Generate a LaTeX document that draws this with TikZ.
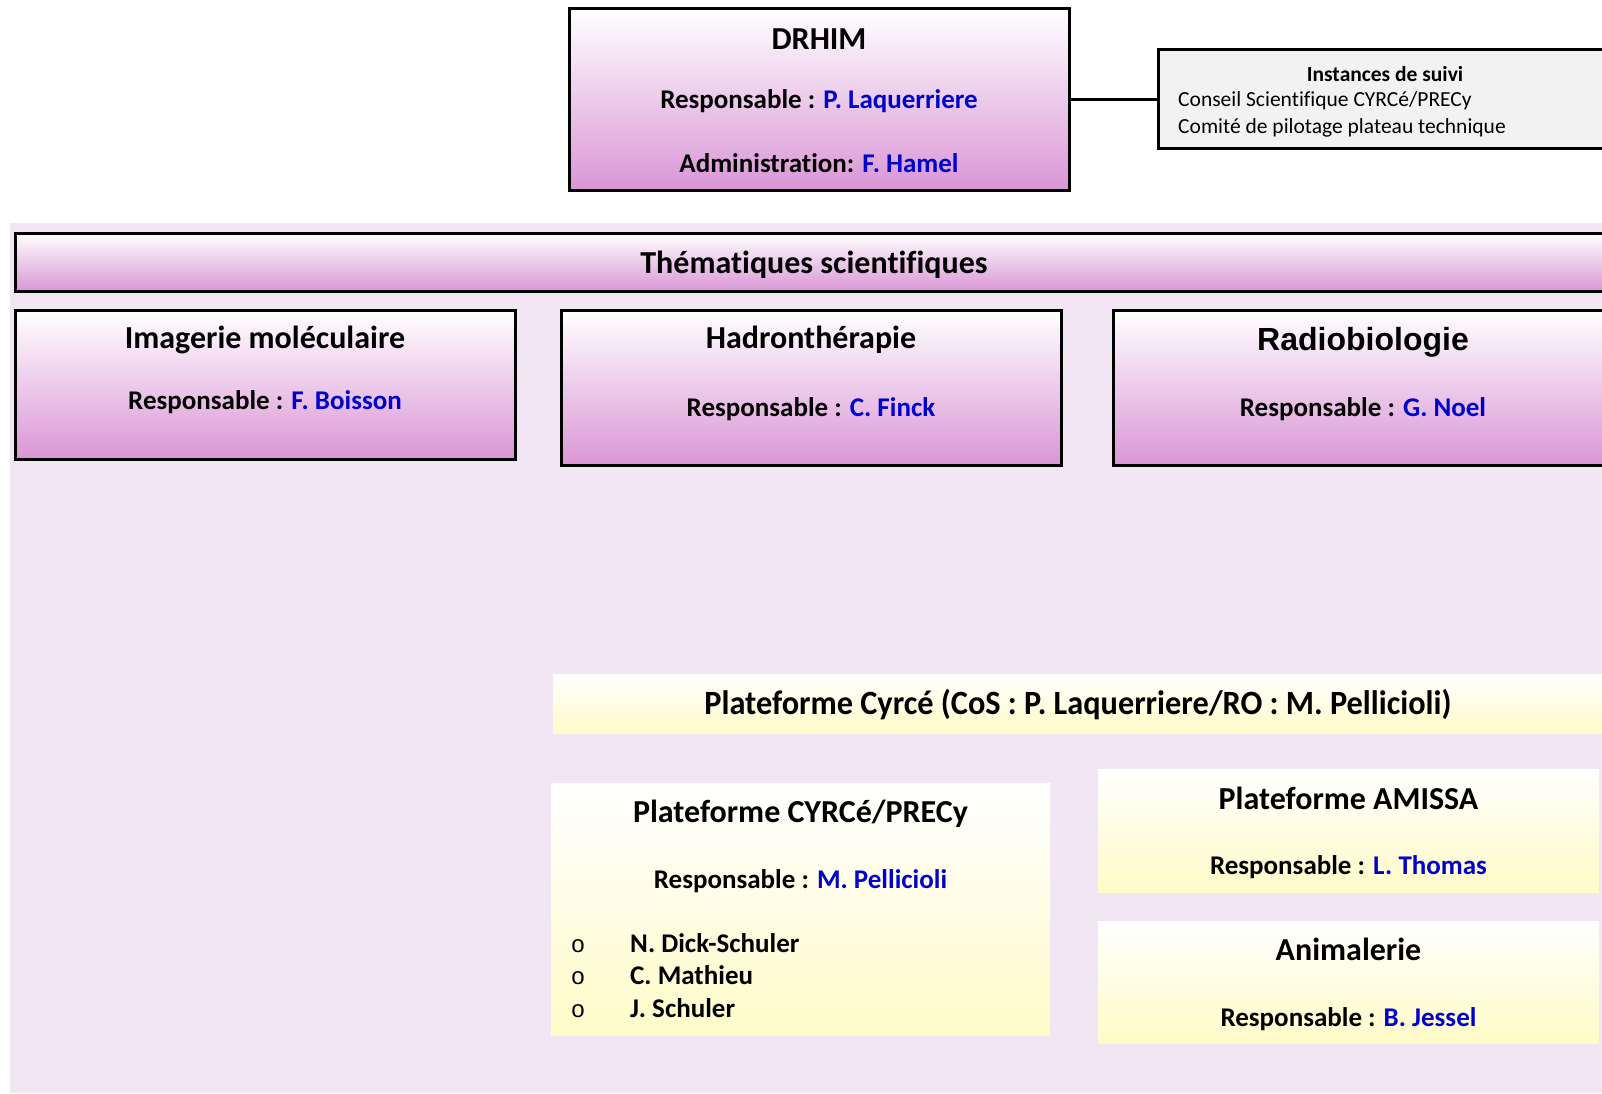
\documentclass[tikz,border=0pt]{standalone}
\usepackage{fontspec}
\setmainfont{Carlito}[Ligatures=NoCommon]
\newfontfamily\radiofont{Liberation Sans}
\newfontfamily\narrowfont[FakeStretch=0.95, Ligatures=NoCommon]{Carlito}
\newfontfamily\bulletfont{Liberation Mono}

\definecolor{orchidbot}{RGB}{218,150,214}
\definecolor{lavender}{RGB}{243,230,244}
\definecolor{paleyellow}{RGB}{255,251,200}
\definecolor{nameblue}{RGB}{0,0,204}
\definecolor{greybox}{RGB}{242,242,242}

\newcommand{\resp}[1]{Responsable : \textcolor{nameblue}{#1}}

\tikzstyle{pinkbox} = [rectangle, draw, line width=3pt, inner sep=0pt, top color=white, bottom color=orchidbot]
\tikzstyle{yellowbox} = [rectangle, inner sep=0pt, top color=white, bottom color=paleyellow]
\tikzstyle{title} = [font=\bfseries\fontsize{32}{36}\selectfont, anchor=mid, inner sep=0pt, yshift=-8pt]
\tikzstyle{resp} = [font=\bfseries\fontsize{27}{31}\selectfont, anchor=mid, inner sep=0pt, yshift=-7pt]
\tikzstyle{small} = [font=\fontsize{21.5}{24}\selectfont, anchor=mid, inner sep=0pt, yshift=-5pt]

\begin{document}
\begin{tikzpicture}[x=1pt, y=-1pt]
    \useasboundingbox (0,0) rectangle (1602,1093);
    \clip (0,0) rectangle (1602,1093);

    % Background
    \fill[lavender] (10,223) rectangle (1602,1093);

    % Nodes
    \node(drhim) [pinkbox, minimum width=500pt, minimum height=182pt] at (819,99) {};
    \node(instances) [rectangle, draw, line width=3pt, fill=greybox, minimum width=454pt, minimum height=99pt] at (1385,99) {};
    \node(themes) [pinkbox, minimum width=1598pt, minimum height=58pt] at (814,262) {};
    \node(imagerie) [pinkbox, minimum width=500pt, minimum height=149pt] at (265,384.5) {};
    \node(hadron) [pinkbox, minimum width=500pt, minimum height=155pt] at (811,387.5) {};
    \node(radio) [pinkbox, minimum width=500pt, minimum height=155pt] at (1363,387.5) {};
    \node(cyrce) [yellowbox, minimum width=1050pt, minimum height=59pt] at (1078,703.5) {};
    \node(precy) [yellowbox, minimum width=499pt, minimum height=252pt] at (800.5,909) {};
    \node(amissa) [yellowbox, minimum width=501pt, minimum height=123pt] at (1348.5,830.5) {};
    \node(animal) [yellowbox, minimum width=501pt, minimum height=122pt] at (1348.5,982) {};

    % Lines
    \draw [line width=3pt] (drhim.east) -- (instances.west);

    % Labels
    \node(drhimtitle) [title] at (819,39) {DRHIM};
    \node(drhimresp) [resp] at (819,99) {\resp{P. Laquerriere}};
    \node(drhimadmin) [resp] at (819,163) {Administration: \textcolor{nameblue}{F. Hamel}};

    \node(insttitle) [small, font=\bfseries\fontsize{21.5}{24}\selectfont] at (1385,74) {Instances de suivi};
    \node(instone) [small, anchor=mid west] at (1178,99) {Conseil Scientifique CYRCé/PRECy};
    \node(insttwo) [small, anchor=mid west] at (1178,126) {Comité de pilotage plateau technique};

    \node(themestitle) [title] at (814,263) {Thématiques scientifiques};

    \node(imagerietitle) [title] at (265,338) {Imagerie moléculaire};
    \node(imagerieresp) [resp] at (265,400) {\resp{F. Boisson}};
    \node(hadrontitle) [title] at (811,338) {Hadronthérapie};
    \node(hadronresp) [resp] at (811,407) {\resp{C. Finck}};
    \node(radiotitle) [title, font=\radiofont\bfseries\fontsize{32}{36}\selectfont] at (1363,340) {Radiobiologie};
    \node(radioresp) [resp] at (1363,407) {\resp{G. Noel}};

    \node(cyrcetitle) [title, font=\narrowfont\bfseries\fontsize{34}{38}\selectfont] at (1078,704) {Plateforme Cyrcé (CoS : P. Laquerriere/RO : M. Pellicioli)};

    \node(precytitle) [title] at (800.5,812) {Plateforme CYRCé/PRECy};
    \node(precyresp) [resp] at (800.5,879) {\resp{M. Pellicioli}};
    \foreach \who [count=\i] in {N. Dick-Schuler, C. Mathieu, J. Schuler} {
        \node(bullet\i) [resp, font=\bulletfont\fontsize{24}{28}\selectfont] at (578,{943+(\i-1)*32.5}) {o};
        \node(member\i) [resp, anchor=mid west] at (630,{943+(\i-1)*32.5}) {\who};
    }

    \node(amissatitle) [title] at (1348.5,799) {Plateforme AMISSA};
    \node(amissaresp) [resp] at (1348.5,865) {\resp{L. Thomas}};
    \node(animaltitle) [title] at (1348.5,950) {Animalerie};
    \node(animalresp) [resp] at (1348.5,1017) {\resp{B. Jessel}};

\end{tikzpicture}
\end{document}
